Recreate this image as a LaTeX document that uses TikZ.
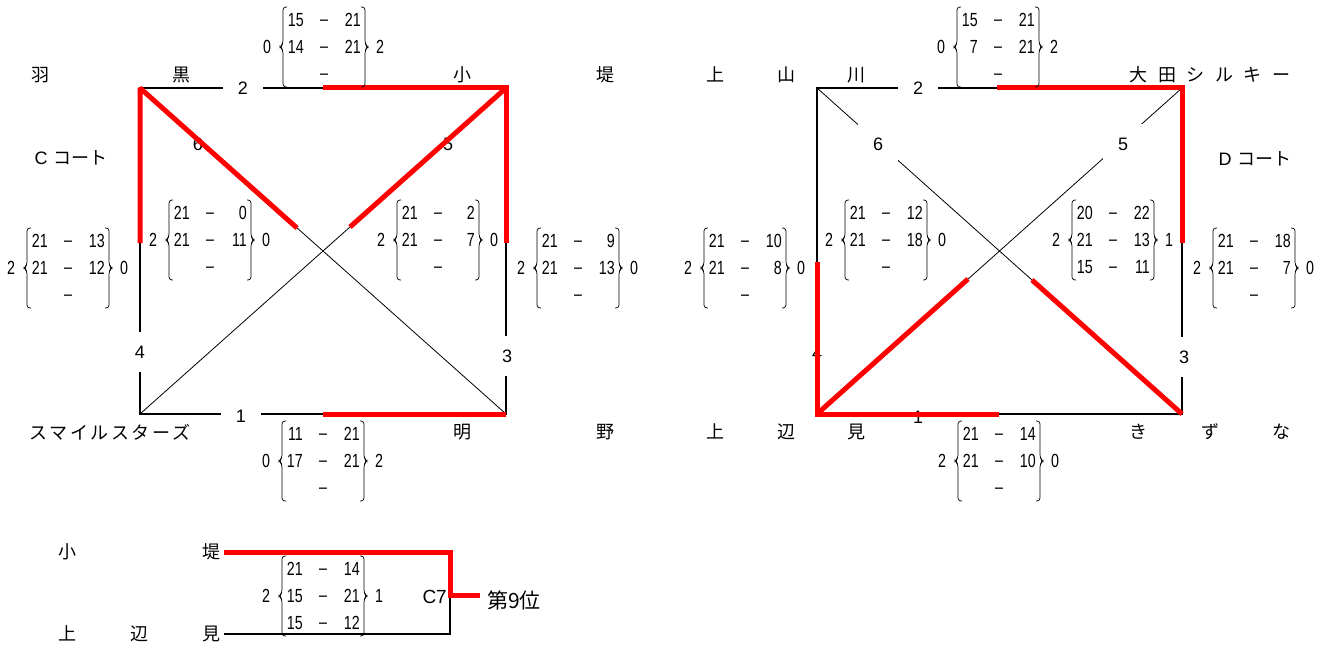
\documentclass[tikz,border=0pt]{standalone}
\usepackage{fontspec}
\setmainfont{Liberation Sans}
\newfontfamily\jp{Noto Sans CJK JP}
\newfontfamily\numf{Liberation Sans}[FakeStretch=0.75]

\tikzset{
  edge/.style={line width=2pt, black},
  diag/.style={line width=0.8pt, black},
  win/.style={line width=5pt, red, line join=miter, miter limit=1.5},
  lbl/.style={fill=white, minimum size=40pt, inner sep=0pt, font=\fontsize{18pt}{20pt}\selectfont},
  tname/.style={inner sep=0pt, font=\jp\fontsize{18pt}{20pt}\selectfont},
  num/.style={inner sep=0pt, font=\numf\fontsize{19pt}{21pt}\selectfont},
  brc/.style={line width=0.7pt, rounded corners=3pt},
}

% #1 name, #2 centre x,y, #3 left score, #4 right score, #5 rows a/b
\newcommand\scoreblk[5]{%
  \begin{scope}[shift={(#2)}]
    \coordinate (#1) at (0,0);
    \node[num,anchor=base] (#1-L) at (-57,6.8) {#3};
    \node[num,anchor=base] (#1-R) at (56,6.8) {#4};
    \foreach \lsc/\rsc [count=\ri] in {#5}{
      \node[num,anchor=base east] (#1-a\ri) at (-20,{(\ri-2)*27+6.8}) {\lsc};
      \node[num,anchor=base] (#1-d\ri) at (0,{(\ri-2)*27+5.2}) {–};
      \node[num,anchor=base east] (#1-b\ri) at (37,{(\ri-2)*27+6.8}) {\rsc};
    }
    \draw[brc] (-37,-40) -- (-41,-40) -- (-41,-3) -- (-44,0) -- (-41,3) -- (-41,40) -- (-37,40);
    \draw[brc] (37,-40) -- (41,-40) -- (41,-3) -- (44,0) -- (41,3) -- (41,40) -- (37,40);
  \end{scope}}

\begin{document}
\begin{tikzpicture}[x=1pt,y=-1pt]
\fill[white] (0,0) rectangle (1324,647);
\useasboundingbox (0,0) rectangle (1324,647);

% ---------------- C court ----------------
\coordinate (cTL) at (140,88);
\coordinate (cTR) at (506,88);
\coordinate (cBL) at (140,414);
\coordinate (cBR) at (506,414);
\coordinate (cT) at (323,88);
\coordinate (cB) at (323,414);
\coordinate (cLm) at (140,243);
\coordinate (cRm) at (506,243);
\coordinate (cD1) at (297,228);
\coordinate (cD2) at (350,227);

\draw[edge] (cTL) -- (cTR) -- (cBR) -- (cBL) -- cycle;
\draw[diag] (cTL) -- (cBR);
\draw[diag] (cTR) -- (cBL);

\node[lbl] (c1) at (241,416) {1};
\node[lbl] (c2) at (243,88) {2};
\node[lbl] (c3) at (507,356) {3};
\node[lbl] (c4) at (140,352) {4};
\node[lbl] (c5) at (448,144) {5};
\node[lbl] (c6) at (198,144) {6};

\draw[win] (cLm) -- (cTL) -- (cD1);
\draw[win] (cT) -- (cTR) -- (cRm);
\draw[win] (cTR) -- (cD2);
\draw[win] (cB) -- (cBR);

\node[tname] (nA) at (111,75) {\makebox[159pt][s]{羽\hfill 黒}};
\node[tname] (nB) at (534,75) {\makebox[161pt][s]{小\hfill 堤}};
\node[tname] (nC) at (110,432) {\makebox[161pt][s]{ス\hfill マ\hfill イ\hfill ル\hfill ス\hfill タ\hfill ー\hfill ズ}};
\node[tname] (nD) at (534,432) {\makebox[161pt][s]{明\hfill 野}};
\node[inner sep=0pt, font=\fontsize{18pt}{20pt}\selectfont] (cname) at (71,158) {C\hspace{6pt}{\jp コート}};

\scoreblk{sC2}{324,47}{0}{2}{15/21,14/21,{}/{}}
\scoreblk{sC4}{68,268}{2}{0}{21/13,21/12,{}/{}}
\scoreblk{sC6}{210,240}{2}{0}{21/0,21/11,{}/{}}
\scoreblk{sC5}{438,240}{2}{0}{21/2,21/7,{}/{}}
\scoreblk{sC3}{578,268}{2}{0}{21/9,21/13,{}/{}}
\scoreblk{sC1}{323,461}{0}{2}{11/21,17/21,{}/{}}

% ---------------- D court ----------------
\coordinate (dTL) at (817,88);
\coordinate (dTR) at (1182,88);
\coordinate (dBL) at (817,414);
\coordinate (dBR) at (1182,414);
\coordinate (dT) at (997,88);
\coordinate (dB) at (999,414);
\coordinate (dLm) at (817,262);
\coordinate (dRm) at (1182,243);
\coordinate (dD1) at (968,279);
\coordinate (dD2) at (1032,280);

\draw[edge] (dTL) -- (dTR) -- (dBR) -- (dBL) -- cycle;
\draw[diag] (dTL) -- (dBR);
\draw[diag] (dTR) -- (dBL);

\node[lbl] (d1) at (918,417) {1};
\node[lbl] (d2) at (918,88) {2};
\node[lbl] (d3) at (1184,357) {3};
\node[lbl] (d4) at (817,353) {4};
\node[lbl] (d5) at (1123,144) {5};
\node[lbl] (d6) at (878,144) {6};

\draw[win] (dT) -- (dTR) -- (dRm);
\draw[win] (dLm) -- (dBL) -- (dB);
\draw[win] (dBL) -- (dD1);
\draw[win] (dBR) -- (dD2);

\node[tname] (nE) at (786,75) {\makebox[160pt][s]{上\hfill 山\hfill 川}};
\node[tname] (nF) at (1210,75) {\makebox[161pt][s]{大\hfill 田\hfill シ\hfill ル\hfill キ\hfill ー}};
\node[tname] (nG) at (786,432) {\makebox[160pt][s]{上\hfill 辺\hfill 見}};
\node[tname] (nH) at (1210,432) {\makebox[161pt][s]{き\hfill ず\hfill な}};
\node[inner sep=0pt, font=\fontsize{18pt}{20pt}\selectfont] (dname) at (1255,159) {D\hspace{6pt}{\jp コート}};

\scoreblk{sD2}{998,47}{0}{2}{15/21,7/21,{}/{}}
\scoreblk{sD4}{745,268}{2}{0}{21/10,21/8,{}/{}}
\scoreblk{sD6}{886,240}{2}{0}{21/12,21/18,{}/{}}
\scoreblk{sD5}{1113,240}{2}{1}{20/22,21/13,15/11}
\scoreblk{sD3}{1254,268}{2}{0}{21/18,21/7,{}/{}}
\scoreblk{sD1}{999,461}{2}{0}{21/14,21/10,{}/{}}

% ---------------- placement match ----------------
\coordinate (bT1) at (224,552);
\coordinate (bT2) at (450,552);
\coordinate (bM) at (450,595);
\coordinate (bE) at (480,595);
\coordinate (bB1) at (224,634);
\coordinate (bB2) at (450,634);

\draw[edge] (bB1) -- (bB2) -- (bM);
\draw[win] (bT1) -- (bT2) -- (bM) -- (bE);

\node[tname] (nI) at (139,552) {\makebox[162pt][s]{小\hfill 堤}};
\node[tname] (nJ) at (139,634) {\makebox[162pt][s]{上\hfill 辺\hfill 見}};
\node[inner sep=0pt, anchor=east, font=\fontsize{19pt}{21pt}\selectfont] (c7) at (447,597) {C7};
\node[inner sep=0pt, anchor=west, font=\jp\fontsize{21pt}{23pt}\selectfont] (rank) at (487,600) {第9位};

\scoreblk{sB}{323,596}{2}{1}{21/14,15/21,15/12}

\end{tikzpicture}
\end{document}
